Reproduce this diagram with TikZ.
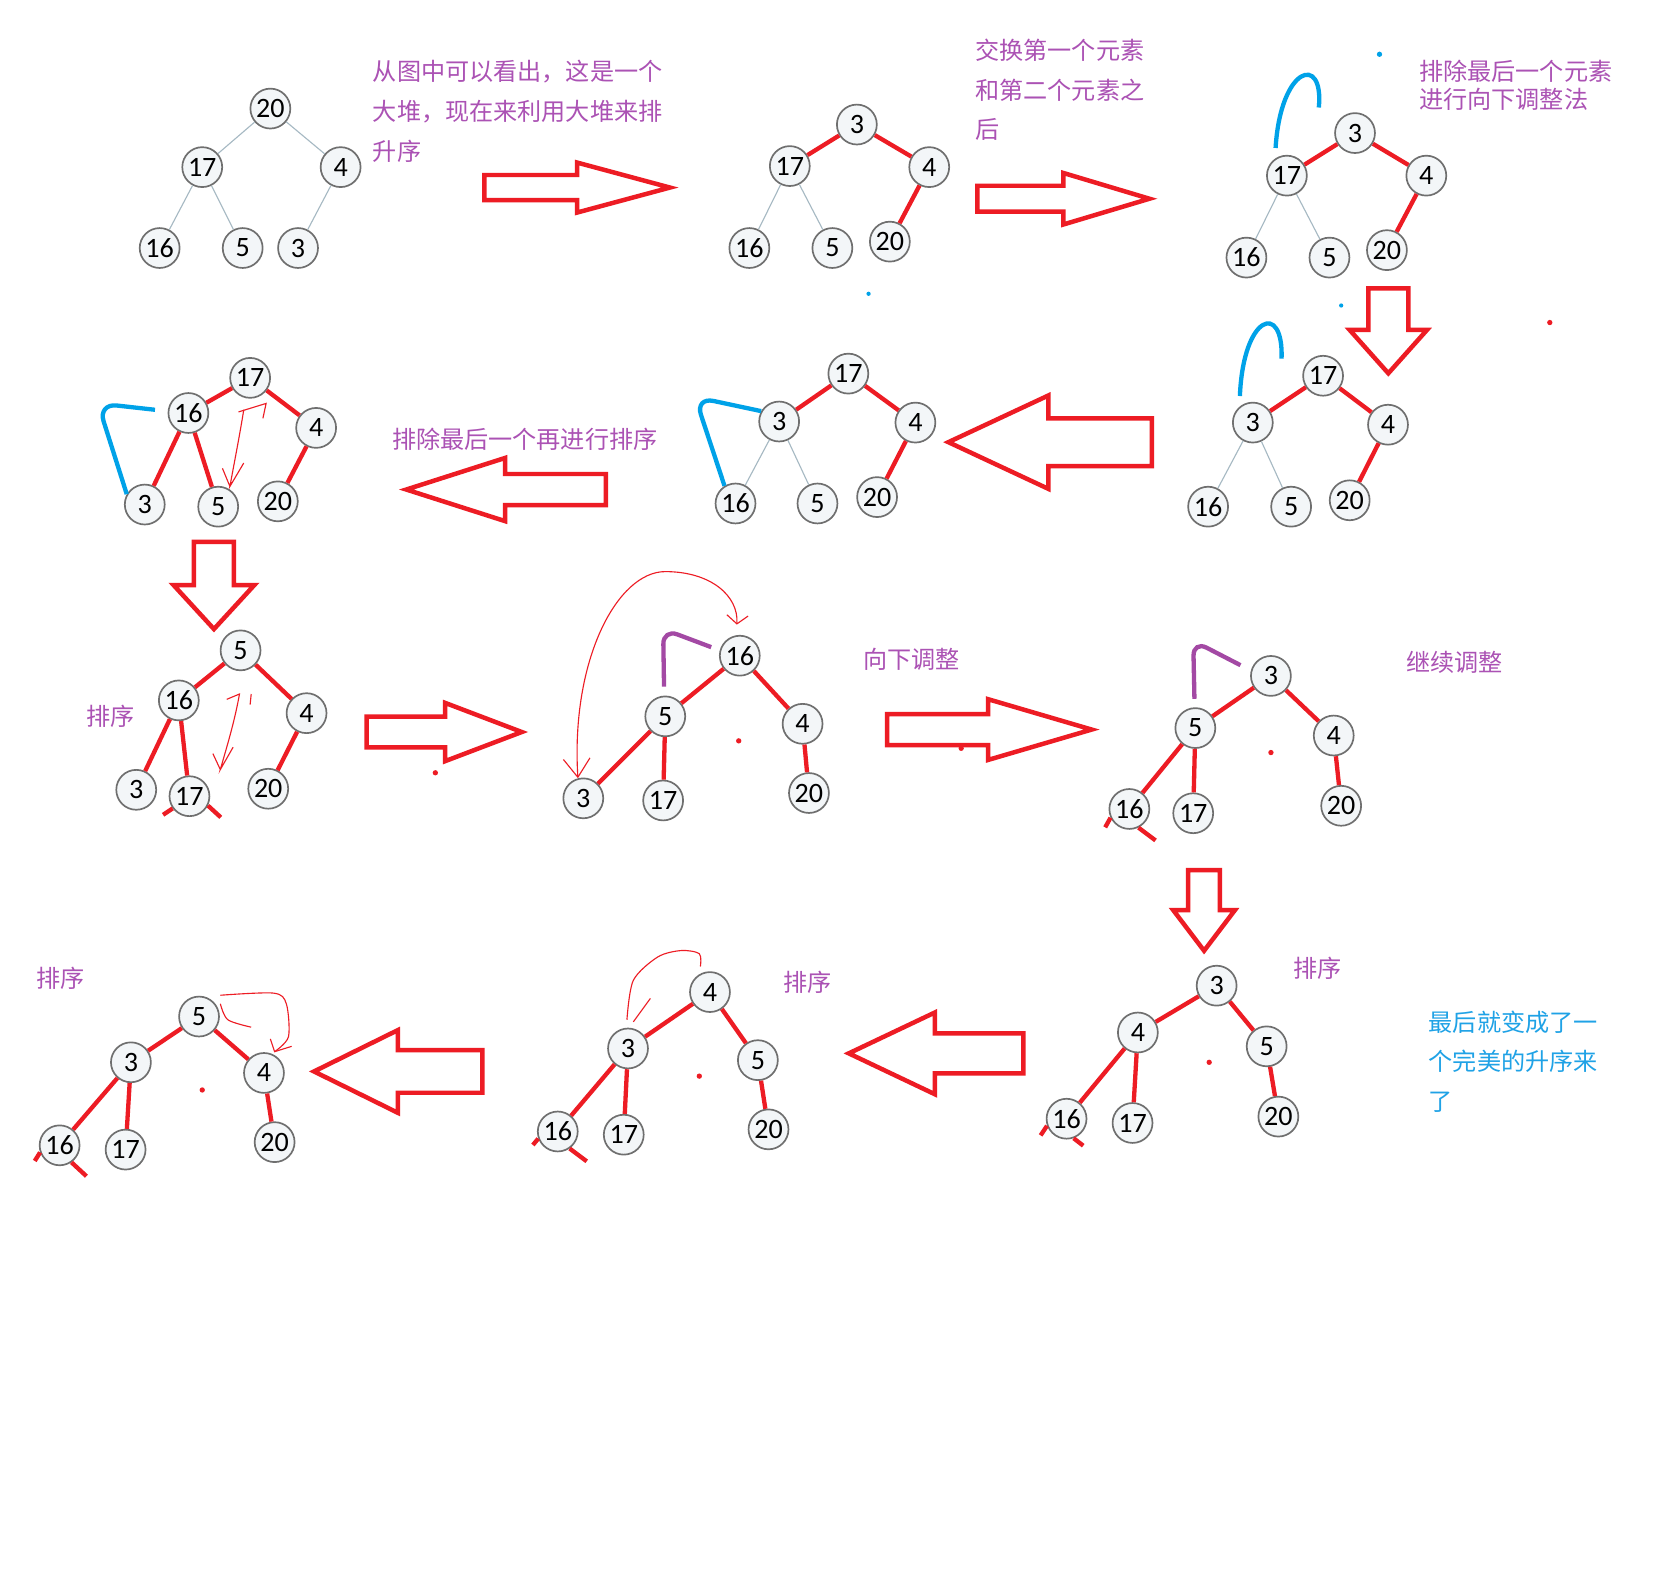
\documentclass[tikz,border=0pt]{standalone}
\usepackage{fontspec}
\setmainfont{Carlito}
\newfontfamily\cjk{Noto Sans CJK SC}
\usetikzlibrary{arrows.meta}
\definecolor{PaintRed}{HTML}{ED1C24}
\definecolor{PaintBlue}{HTML}{00A2E8}
\definecolor{PaintPurple}{HTML}{A349A4}
\definecolor{NotePurple}{HTML}{AB52B4}
\definecolor{NoteBlue}{HTML}{1FA2E6}
\definecolor{TieGrey}{HTML}{A6B9C3}
\definecolor{RimGrey}{HTML}{6F6F6F}
\definecolor{BallFill}{HTML}{F3F6F8}
\tikzset{
  ball/.style={circle, draw=RimGrey, line width=0.9pt, fill=BallFill, minimum size=0.75cm,
               inner sep=0pt, font=\fontsize{15}{18}\selectfont},
  greyline/.style={draw=TieGrey, line width=0.6pt},
  redline/.style={draw=PaintRed, line width=2.3pt},
  bigarrow/.style={draw=PaintRed, line width=2.4pt, line join=miter},
  bluebend/.style={draw=PaintBlue, line width=2.3pt, rounded corners=10pt},
  purplebend/.style={draw=PaintPurple, line width=2.3pt, rounded corners=8pt},
  scrawl/.style={draw=PaintRed, line width=0.6pt},
  note/.style={text=NotePurple, inner sep=0pt, align=left, font=\cjk\fontsize{12.9}{21.3}\selectfont},
  bluenote/.style={note, text=NoteBlue},
}
\newcommand{\hollowarrow}[6]{%
  \draw[bigarrow, shift={#1}, rotate=#2] (0,-#4) -- ({#3-#6},-#4) -- ({#3-#6},-#5) -- (#3,0)
    -- ({#3-#6},#5) -- ({#3-#6},#4) -- (0,#4) -- cycle;}

\begin{document}
\begin{tikzpicture}[x=0.02cm, y=-0.02cm]
  \fill[white] (0,0) rectangle (1568,1475);
  \useasboundingbox (0,0) rectangle (1568,1475);

  \node[ball] (a20) at (254,102) {20};
  \node[ball] (a17) at (190,157) {17};
  \node[ball] (a4) at (320,157) {4};
  \node[ball] (a16) at (150,233) {16};
  \node[ball] (a5) at (228,233) {5};
  \node[ball] (a3) at (280,233) {3};
  \draw[greyline] (a20) -- (a17);
  \draw[greyline] (a20) -- (a4);
  \draw[greyline] (a17) -- (a16);
  \draw[greyline] (a17) -- (a5);
  \draw[greyline] (a4) -- (a3);

  \node[ball] (b3) at (805,117) {3};
  \node[ball] (b17) at (742,156) {17};
  \node[ball] (b4) at (873,157) {4};
  \node[ball] (b16) at (704,233) {16};
  \node[ball] (b5) at (782,233) {5};
  \node[ball] (b20) at (836,227) {20};
  \draw[redline] (b3) -- (b17);
  \draw[redline] (b3) -- (b4);
  \draw[redline] (b4) -- (b20);
  \draw[greyline] (b17) -- (b16);
  \draw[greyline] (b17) -- (b5);

  \node[ball] (c3) at (1273,125) {3};
  \node[ball] (c17) at (1209,165) {17};
  \node[ball] (c4) at (1340,165) {4};
  \node[ball] (c16) at (1171,242) {16};
  \node[ball] (c5) at (1249,242) {5};
  \node[ball] (c20) at (1303,235) {20};
  \draw[redline] (c3) -- (c17);
  \draw[redline] (c3) -- (c4);
  \draw[redline] (c4) -- (c20);
  \draw[greyline] (c17) -- (c16);
  \draw[greyline] (c17) -- (c5);
  \coordinate (cbluetip) at (1239,101);
  \draw[bluebend, shorten <=0.2cm] (c17.125) .. controls (1203,62) and (1244,50) .. (cbluetip);

  \node[ball] (d17) at (1243,353) {17};
  \node[ball] (d3) at (1177,397) {3};
  \node[ball] (d4) at (1304,399) {4};
  \node[ball] (d16) at (1135,476) {16};
  \node[ball] (d5) at (1213,476) {5};
  \node[ball] (d20) at (1268,470) {20};
  \draw[redline] (d17) -- (d3);
  \draw[redline] (d17) -- (d4);
  \draw[redline] (d4) -- (d20);
  \draw[greyline] (d3) -- (d16);
  \draw[greyline] (d3) -- (d5);
  \coordinate (dbluetip) at (1204,337);
  \draw[bluebend, shorten <=0.2cm] (d3.130) .. controls (1168,295) and (1206,283) .. (dbluetip);

  \node[ball] (e17) at (797,351) {17};
  \node[ball] (e3) at (732,396) {3};
  \node[ball] (e4) at (860,397) {4};
  \node[ball] (e16) at (691,473) {16};
  \node[ball] (e5) at (768,473) {5};
  \node[ball] (e20) at (824,467) {20};
  \draw[redline] (e17) -- (e3);
  \draw[redline] (e17) -- (e4);
  \draw[redline] (e4) -- (e20);
  \draw[greyline] (e3) -- (e16);
  \draw[greyline] (e3) -- (e5);
  \draw[bluebend] (e3.150) -- (653,373) -- (e16.122);

  \node[ball] (f17) at (235,355) {17};
  \node[ball] (f16) at (177,388) {16};
  \node[ball] (f4) at (297,402) {4};
  \node[ball] (f3) at (136,474) {3};
  \node[ball] (f5) at (205,476) {5};
  \node[ball] (f20) at (261,471) {20};
  \draw[redline] (f17) -- (f16);
  \draw[redline] (f17) -- (f4);
  \draw[redline] (f16) -- (f3);
  \draw[redline] (f16) -- (f5);
  \draw[redline] (f4) -- (f20);
  \draw[bluebend, shorten <=0.24cm] (f16.175) -- (92,379) -- (f3.150);
  \draw[scrawl] (224,387) -- (250,379) -- (247,393);
  \draw[scrawl] (229,385) .. controls (225,410) and (220,435) .. (216,457) -- (229,435) (209,440) -- (216,457);

  \node[ball] (g5) at (226,611) {5};
  \node[ball] (g16) at (168,658) {16};
  \node[ball] (g4) at (288,670) {4};
  \node[ball] (g3) at (128,742) {3};
  \node[ball] (g17) at (178,748) {17};
  \node[ball] (g20) at (252,741) {20};
  \draw[redline] (g5) -- (g16);
  \draw[redline] (g5) -- (g4);
  \draw[redline] (g16) -- (g3);
  \draw[redline] (g16) -- (g17);
  \draw[redline] (g4) -- (g20);
  \draw[redline] (g17.-144) -- ++(-9,6);
  \draw[redline] (g17.-27) -- ++(12,11);
  \draw[scrawl] (213,657) -- (225,652) .. controls (220,680) and (212,705) .. (207,723) -- (219,702) (200,708) -- (207,723);
  \draw[scrawl] (236,652) -- (235,662);

  \node[ball] (h16) at (695,616) {16};
  \node[ball] (h5) at (625,673) {5};
  \node[ball] (h4) at (754,680) {4};
  \node[ball] (h3) at (548,750) {3};
  \node[ball] (h17) at (623,752) {17};
  \node[ball] (h20) at (760,745) {20};
  \draw[redline] (h16) -- (h5);
  \draw[redline] (h16) -- (h4);
  \draw[redline] (h5) -- (h3);
  \draw[redline] (h5) -- (h17);
  \draw[redline] (h4) -- (h20);
  \draw[purplebend, shorten <=0.17cm, shorten >=0.17cm] (h16.165) -- (623,591) -- (h5.93);
  \draw[scrawl, {Straight Barb[length=3.5mm,width=5mm]}-{Straight Barb[length=1.6mm,width=4mm]}, shorten >=0.2cm]
    (h3.105) .. controls (536,620) and (580,537) .. (625,537) .. controls (668,537) and (694,560) .. (h16.100);

  \node[ball] (i3) at (1194,635) {3};
  \node[ball] (i5) at (1123,684) {5};
  \node[ball] (i4) at (1253,691) {4};
  \node[ball] (i16) at (1061,760) {16};
  \node[ball] (i17) at (1121,764) {17};
  \node[ball] (i20) at (1260,757) {20};
  \draw[redline] (i3) -- (i5);
  \draw[redline] (i3) -- (i4);
  \draw[redline] (i5) -- (i16);
  \draw[redline] (i5) -- (i17);
  \draw[redline] (i4) -- (i20);
  \draw[redline] (i16.-64) -- ++(16,12);
  \draw[redline] (i16.-155) -- ++(-5,9);
  \draw[purplebend, shorten <=0.22cm, shorten >=0.16cm] (i3.165) -- (1121,602) -- (i5.92);

  \node[ball] (j3) at (1143,926) {3};
  \node[ball] (j4) at (1069,970) {4};
  \node[ball] (j5) at (1190,983) {5};
  \node[ball] (j16) at (1002,1051) {16};
  \node[ball] (j17) at (1064,1055) {17};
  \node[ball] (j20) at (1201,1049) {20};
  \draw[redline] (j3) -- (j4);
  \draw[redline] (j3) -- (j5);
  \draw[redline] (j4) -- (j16);
  \draw[redline] (j4) -- (j17);
  \draw[redline] (j5) -- (j20);
  \draw[redline] (j16.-70) -- ++(9,7);
  \draw[redline] (j16.-160) -- ++(-6,9);

  \node[ball] (k4) at (667,932) {4};
  \node[ball] (k3) at (590,985) {3};
  \node[ball] (k5) at (712,996) {5};
  \node[ball] (k16) at (524,1063) {16};
  \node[ball] (k17) at (586,1066) {17};
  \node[ball] (k20) at (722,1061) {20};
  \draw[redline] (k4) -- (k3);
  \draw[redline] (k4) -- (k5);
  \draw[redline] (k3) -- (k16);
  \draw[redline] (k3) -- (k17);
  \draw[redline] (k5) -- (k20);
  \draw[redline] (k16.-55) -- ++(16,12);
  \draw[redline] (k16.-160) -- ++(-5,6);
  \draw[scrawl] plot[smooth] coordinates {(658,908) (657,896) (640,893) (618,899) (595,921) (589,958)};
  \draw[scrawl] (611,938) -- (595,960);

  \node[ball] (l5) at (187,955) {5};
  \node[ball] (l3) at (123,998) {3};
  \node[ball] (l4) at (248,1008) {4};
  \node[ball] (l16) at (56,1076) {16};
  \node[ball] (l17) at (118,1080) {17};
  \node[ball] (l20) at (258,1073) {20};
  \draw[redline] (l5) -- (l3);
  \draw[redline] (l5) -- (l4);
  \draw[redline] (l3) -- (l16);
  \draw[redline] (l3) -- (l17);
  \draw[redline] (l4) -- (l20);
  \draw[redline] (l16.-55) -- ++(14,13);
  \draw[redline] (l16.-160) -- ++(-5,8);
  \draw[scrawl] plot[smooth] coordinates {(207,935) (257,933) (269,943) (271,974) (258,988)};
  \draw[scrawl] (254,976) -- (258,988) -- (274,983);
  \draw[scrawl] plot[smooth] coordinates {(207,943) (214,958) (236,965)};

  \hollowarrow{(455,176.2)}{0}{174.4}{11.8}{23.5}{87.3}
  \hollowarrow{(918.3,186.7)}{0}{161.6}{12.2}{24.2}{80.9}
  \hollowarrow{(1304.3,271)}{-90}{79.7}{18.8}{36.3}{40.7}
  \hollowarrow{(1082.1,415.4)}{180}{191.1}{22.4}{43.9}{94}
  \hollowarrow{(569.3,459.9)}{180}{187.6}{14.6}{29.7}{92.9}
  \hollowarrow{(201,509)}{-90}{82}{18.8}{38}{41.4}
  \hollowarrow{(344.5,687.7)}{0}{145.7}{14.4}{27.4}{72.1}
  \hollowarrow{(833.4,685.4)}{0}{192.2}{14.6}{28.5}{97.2}
  \hollowarrow{(1131.2,817.4)}{-90}{75.8}{14.9}{29}{38.2}
  \hollowarrow{(961.5,989.6)}{180}{164.1}{18.8}{38.4}{80.9}
  \hollowarrow{(453.2,1006.6)}{180}{158.2}{20}{38.8}{78.7}

  \fill[PaintRed] (694,696) circle (2.5) (1194,707) circle (2.5) (1136,998) circle (2.5)
    (657,1011) circle (2.5) (190,1024) circle (2.5) (1456,303) circle (2.5)
    (409,726) circle (2.5) (903,703) circle (2.5);
  \fill[PaintBlue] (1296,51) circle (2.5) (816,276) circle (2) (1260,287) circle (2);

  \node[note, anchor=north west] (heapnote) at (350,56) {从图中可以看出，这是一个\\大堆，现在来利用大堆来排\\升序};
  \node[note, anchor=north west] (swapnote) at (916,36) {交换第一个元素\\和第二个元素之\\后};
  \node[note, anchor=north west, font=\cjk\fontsize{12.9}{14.8}\selectfont] (dropnote) at (1333,56) {排除最后一个元素\\进行向下调整法};
  \node[note, anchor=west] (againnote) at (368,413) {排除最后一个再进行排序};
  \node[note, anchor=west] (sortnote1) at (81,673) {排序};
  \node[note, anchor=west] (downnote) at (811,619) {向下调整};
  \node[note, anchor=west] (contnote) at (1321,622) {继续调整};
  \node[note, anchor=west] (sortnote2) at (1215,910) {排序};
  \node[note, anchor=west] (sortnote3) at (736,923) {排序};
  \node[note, anchor=west] (sortnote4) at (34,919) {排序};
  \node[bluenote, anchor=north west] (endnote) at (1342,949) {最后就变成了一\\个完美的升序来\\了};
\end{tikzpicture}
\end{document}
